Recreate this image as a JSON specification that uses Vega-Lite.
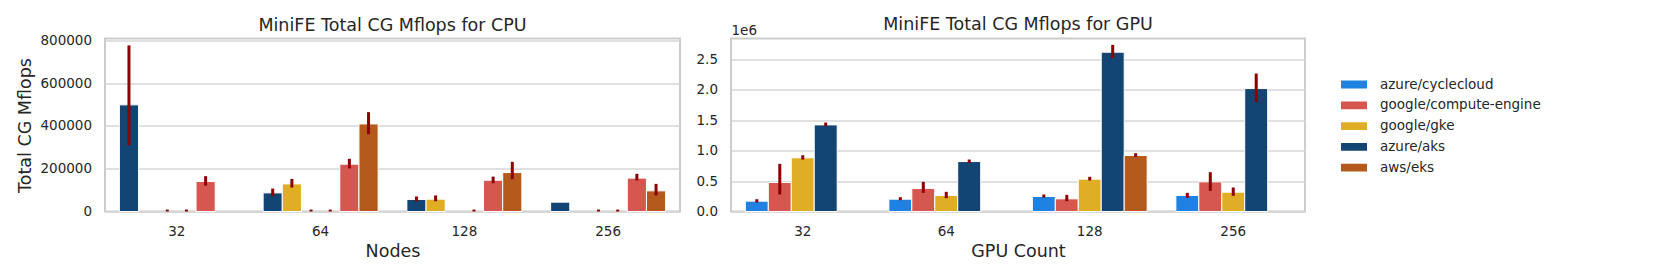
{
  "$schema": "https://vega.github.io/schema/vega-lite/v6.json",
  "padding": {"left": 15, "top": 14.5, "right": 0, "bottom": 0},
  "background": "white",
  "config": {
    "font": "DejaVu Sans",
    "view": {"stroke": "#cccccc", "strokeWidth": 2},
    "axis": {
      "labelFont": "DejaVu Sans",
      "titleFont": "DejaVu Sans",
      "labelFontSize": 13.5,
      "titleFontSize": 17.5,
      "labelColor": "#262626",
      "titleColor": "#262626",
      "titleFontWeight": "normal",
      "domain": false,
      "ticks": false,
      "gridColor": "#d6d6d6",
      "gridWidth": 1.3,
      "labelPadding": 13.5,
      "labelOverlap": false
    },
    "axisX": {"grid": false, "labelAngle": 0, "labelPadding": 12.5, "titlePadding": 4.5},
    "title": {"font": "DejaVu Sans", "fontSize": 17.5, "fontWeight": "normal", "color": "#262626", "frame": "group", "baseline": "alphabetic"},
    "legend": {"labelFont": "DejaVu Sans", "labelFontSize": 13.5, "labelColor": "#262626"}
  },
  "datasets": {
    "cpu": [
      {"env": "azure/aks", "nodes": "32", "v": 498000, "lo": 310000, "hi": 776000},
      {"env": "google/compute-engine", "nodes": "32", "v": 140000, "lo": 121000, "hi": 165000},
      {"env": "azure/cyclecloud", "nodes": "32", "v": 0, "lo": 0, "hi": 9000},
      {"env": "aws/parallel-cluster", "nodes": "32", "v": 0, "lo": 0, "hi": 9000},
      {"env": "azure/aks", "nodes": "64", "v": 87000, "lo": 72000, "hi": 107000},
      {"env": "google/gke", "nodes": "64", "v": 129000, "lo": 112000, "hi": 152000},
      {"env": "azure/cyclecloud", "nodes": "64", "v": 0, "lo": 0, "hi": 9000},
      {"env": "aws/parallel-cluster", "nodes": "64", "v": 0, "lo": 0, "hi": 9000},
      {"env": "google/compute-engine", "nodes": "64", "v": 221000, "lo": 201000, "hi": 246000},
      {"env": "aws/eks", "nodes": "64", "v": 409000, "lo": 361000, "hi": 464000},
      {"env": "azure/aks", "nodes": "128", "v": 56000, "lo": 47000, "hi": 70000},
      {"env": "google/gke", "nodes": "128", "v": 57500, "lo": 48000, "hi": 75000},
      {"env": "aws/parallel-cluster", "nodes": "128", "v": 0, "lo": 0, "hi": 9000},
      {"env": "google/compute-engine", "nodes": "128", "v": 146000, "lo": 132000, "hi": 163000},
      {"env": "aws/eks", "nodes": "128", "v": 182000, "lo": 151000, "hi": 232000},
      {"env": "azure/aks", "nodes": "256", "v": 43600, "lo": 43600, "hi": 43600},
      {"env": "azure/cyclecloud", "nodes": "256", "v": 0, "lo": 0, "hi": 9000},
      {"env": "aws/parallel-cluster", "nodes": "256", "v": 0, "lo": 0, "hi": 9000},
      {"env": "google/compute-engine", "nodes": "256", "v": 156000, "lo": 145000, "hi": 176000},
      {"env": "aws/eks", "nodes": "256", "v": 96500, "lo": 75000, "hi": 129000}
    ],
    "gpu": [
      {"env": "azure/cyclecloud", "gpus": "32", "v": 170000, "lo": 148000, "hi": 202000},
      {"env": "google/compute-engine", "gpus": "32", "v": 476000, "lo": 279000, "hi": 782000},
      {"env": "google/gke", "gpus": "32", "v": 881000, "lo": 853000, "hi": 924000},
      {"env": "azure/aks", "gpus": "32", "v": 1422000, "lo": 1400000, "hi": 1460000},
      {"env": "azure/cyclecloud", "gpus": "64", "v": 202000, "lo": 186000, "hi": 235000},
      {"env": "google/compute-engine", "gpus": "64", "v": 377000, "lo": 306000, "hi": 487000},
      {"env": "google/gke", "gpus": "64", "v": 263000, "lo": 219000, "hi": 323000},
      {"env": "azure/aks", "gpus": "64", "v": 820000, "lo": 799000, "hi": 853000},
      {"env": "azure/cyclecloud", "gpus": "128", "v": 246000, "lo": 230000, "hi": 279000},
      {"env": "google/compute-engine", "gpus": "128", "v": 208000, "lo": 170000, "hi": 273000},
      {"env": "google/gke", "gpus": "128", "v": 531000, "lo": 509000, "hi": 569000},
      {"env": "azure/aks", "gpus": "128", "v": 2615000, "lo": 2520000, "hi": 2735000},
      {"env": "aws/eks", "gpus": "128", "v": 919000, "lo": 897000, "hi": 957000},
      {"env": "azure/cyclecloud", "gpus": "256", "v": 263000, "lo": 224000, "hi": 306000},
      {"env": "google/compute-engine", "gpus": "256", "v": 487000, "lo": 339000, "hi": 645000},
      {"env": "google/gke", "gpus": "256", "v": 317000, "lo": 257000, "hi": 394000},
      {"env": "azure/aks", "gpus": "256", "v": 2018000, "lo": 1794000, "hi": 2265000}
    ]
  },
  "spacing": 51,
  "bounds": "flush",
  "resolve": {"scale": {"x": "independent", "y": "independent", "xOffset": "independent", "color": "shared"}, "legend": {"color": "shared"}},
  "hconcat": [
    {
      "width": 575,
      "height": 173,
      "title": {"text": "MiniFE Total CG Mflops for CPU", "offset": -0.9},
      "data": {"name": "cpu"},
      "encoding": {
        "x": {"field": "nodes", "type": "nominal", "sort": ["32", "64", "128", "256"], "scale": {"paddingInner": 0, "paddingOuter": 0}, "axis": {"title": "Nodes"}},
        "xOffset": {"field": "env", "type": "nominal", "scale": {"domain": ["azure/aks", "google/gke", "azure/cyclecloud", "aws/parallel-cluster", "google/compute-engine", "aws/eks"], "paddingInner": 0, "paddingOuter": 0.75}}
      },
      "layer": [
        {
          "transform": [{"filter": "datum.v > 0"}],
          "mark": {"type": "bar", "stroke": "white", "strokeWidth": 1},
          "encoding": {
            "y": {"field": "v", "type": "quantitative", "scale": {"domain": [0, 808000], "nice": false}, "axis": {"title": "Total CG Mflops", "values": [0, 200000, 400000, 600000, 800000], "format": "d", "titlePadding": 5.5, "labelOverlap": false}},
            "color": {"field": "env", "type": "nominal", "scale": {"domain": ["azure/cyclecloud", "google/compute-engine", "google/gke", "azure/aks", "aws/eks"], "range": ["#1f82e2", "#d6574f", "#dfae25", "#134574", "#b45a1c"]}, "legend": {"orient": "none", "legendX": 1236, "legendY": 38, "title": null, "symbolType": "M-1,-0.3H1V0.3H-1Z", "symbolSize": 676, "symbolStrokeWidth": 0, "symbolOpacity": 1, "clipHeight": 16, "rowPadding": 4.8, "labelOffset": 13, "labelLimit": 0}}
          }
        },
        {
          "mark": {"type": "rule", "color": "#8b0000", "strokeWidth": 3},
          "encoding": {
            "y": {"field": "lo", "type": "quantitative", "axis": {"title": "Total CG Mflops", "values": [0, 200000, 400000, 600000, 800000], "format": "d", "titlePadding": 5.5, "labelOverlap": false}},
            "y2": {"field": "hi"}
          }
        }
      ]
    },
    {
      "width": 574,
      "height": 173,
      "title": {"text": "MiniFE Total CG Mflops for GPU", "offset": -10.5},
      "data": {"name": "gpu"},
      "encoding": {
        "x": {"field": "gpus", "type": "nominal", "sort": ["32", "64", "128", "256"], "scale": {"paddingInner": 0, "paddingOuter": 0}, "axis": {"title": "GPU Count"}},
        "xOffset": {"field": "env", "type": "nominal", "scale": {"domain": ["azure/cyclecloud", "google/compute-engine", "google/gke", "azure/aks", "aws/eks"], "paddingInner": 0, "paddingOuter": 0.625}}
      },
      "layer": [
        {
          "mark": {"type": "bar", "stroke": "white", "strokeWidth": 1},
          "encoding": {
            "y": {"field": "v", "type": "quantitative", "scale": {"domain": [0, 2840000], "nice": false}, "axis": {"title": "1e6", "values": [0, 500000, 1000000, 1500000, 2000000, 2500000], "labelExpr": "format(datum.value / 1000000, '.1f')", "labelOverlap": false, "titleAngle": 0, "titleX": 0, "titleY": -4.3, "titleAlign": "left", "titleBaseline": "alphabetic", "titleFontSize": 13.5}},
            "color": {"field": "env", "type": "nominal"}
          }
        },
        {
          "mark": {"type": "rule", "color": "#8b0000", "strokeWidth": 3},
          "encoding": {
            "y": {"field": "lo", "type": "quantitative", "axis": {"title": "1e6", "values": [0, 500000, 1000000, 1500000, 2000000, 2500000], "labelExpr": "format(datum.value / 1000000, '.1f')", "labelOverlap": false, "titleAngle": 0, "titleX": 0, "titleY": -4.3, "titleAlign": "left", "titleBaseline": "alphabetic", "titleFontSize": 13.5}},
            "y2": {"field": "hi"}
          }
        }
      ]
    }
  ]
}
